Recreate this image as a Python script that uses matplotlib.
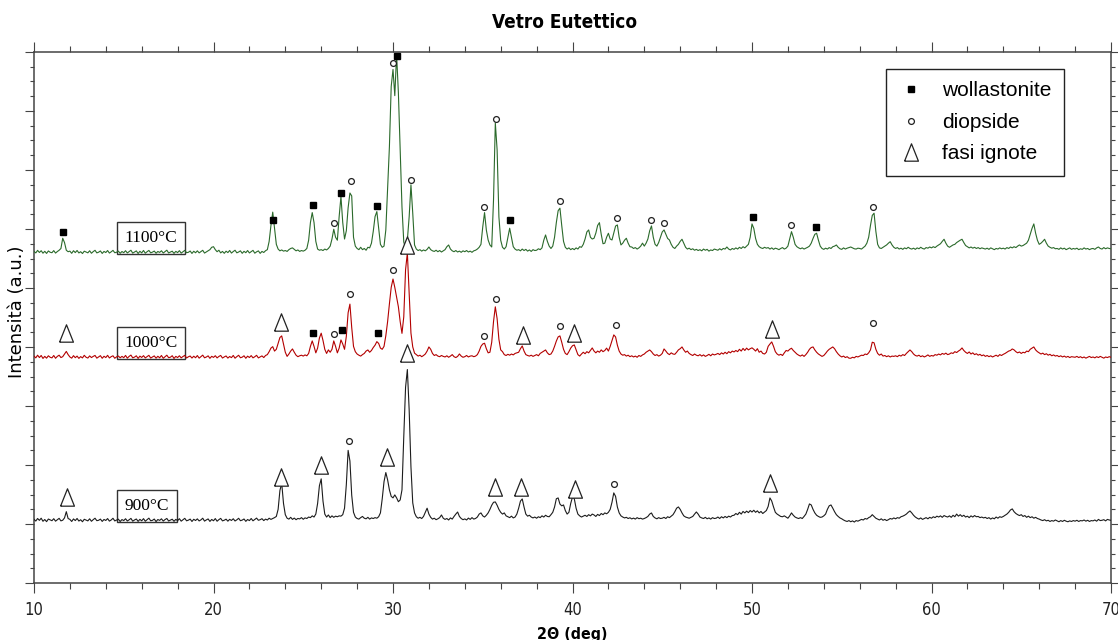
import numpy as np
import matplotlib
matplotlib.use("Agg")
import matplotlib.pyplot as plt
from matplotlib import font_manager
from matplotlib.lines import Line2D
from matplotlib.ticker import MultipleLocator

# --- Scan data (counts, 2theta from 10.0 deg in 0.1 deg steps) ---
TTH_START = 10.0
TTH_STEP = 0.1

counts_900 = [
    212, 182, 225, 194, 230, 178, 208, 172, 216, 202,
    188, 222, 180, 205, 228, 185, 196, 235, 341, 225,
    210, 175, 218, 190, 226, 182, 204, 170, 212, 198,
    185, 220, 178, 206, 230, 188, 195, 215, 176, 209,
    192, 224, 181, 200, 229, 184, 198, 214, 174, 207,
    190, 221, 183, 203, 227, 180, 200, 217, 177, 211,
    186, 223, 179, 204, 231, 187, 194, 216, 173, 208,
    193, 220, 182, 207, 226, 183, 199, 213, 178, 210,
    189, 222, 180, 205, 228, 186, 197, 215, 175, 212,
    191, 219, 184, 202, 230, 181, 201, 218, 176, 209,
    187, 224, 179, 206, 227, 185, 196, 214, 180, 211,
    192, 221, 183, 203, 229, 188, 198, 217, 177, 208,
    190, 225, 186, 210, 232, 195, 205, 222, 190, 215,
    200, 230, 210, 225, 240, 260, 380, 700, 824, 480,
    290, 230, 215, 245, 210, 232, 205, 226, 218, 240,
    212, 236, 225, 250, 240, 270, 250, 300, 480, 780,
    897, 520, 300, 250, 285, 240, 270, 245, 265, 255,
    270, 265, 290, 400, 800, 1380, 1200, 620, 330, 250,
    225, 215, 240, 260, 230, 220, 245, 215, 235, 225,
    240, 230, 255, 320, 560, 850, 1004, 880, 710, 600,
    575, 625, 575, 510, 540, 710, 1610, 2450, 2750, 2070,
    1100, 490, 320, 255, 230, 245, 225, 260, 330, 400,
    300, 245, 215, 230, 205, 220, 240, 285, 230, 210,
    225, 200, 235, 215, 260, 300, 335, 260, 225, 205,
    218, 200, 232, 210, 240, 215, 226, 250, 300, 320,
    270, 250, 280, 320, 380, 450, 500, 506, 450, 380,
    330, 300, 320, 270, 255, 240, 265, 235, 250, 300,
    400, 520, 557, 420, 300, 265, 280, 250, 235, 250,
    230, 255, 240, 270, 250, 280, 260, 255, 290, 330,
    420, 560, 574, 470, 440, 455, 360, 300, 330, 480,
    591, 560, 400, 300, 270, 250, 265, 280, 260, 290,
    270, 300, 285, 260, 295, 275, 310, 290, 320, 305,
    330, 380, 500, 659, 600, 420, 320, 270, 250, 235,
    245, 225, 238, 218, 232, 215, 240, 222, 230, 215,
    225, 240, 260, 300, 319, 260, 235, 220, 240, 225,
    230, 245, 225, 255, 240, 265, 290, 340, 400, 421,
    380, 320, 270, 250, 240, 230, 245, 260, 300, 336,
    300, 250, 235, 225, 245, 220, 235, 215, 240, 225,
    230, 250, 225, 255, 235, 260, 240, 265, 250, 275,
    280, 310, 290, 330, 300, 345, 320, 350, 325, 360,
    335, 365, 330, 355, 320, 345, 310, 335, 360, 430,
    574, 520, 420, 330, 300, 280, 260, 255, 270, 250,
    230, 270, 320, 280, 250, 235, 225, 240, 225, 260,
    300, 380, 472, 455, 380, 320, 280, 260, 245, 250,
    270, 300, 380, 440, 455, 400, 340, 290, 260, 235,
    220, 200, 185, 175, 190, 170, 185, 165, 190, 180,
    195, 210, 200, 225, 215, 240, 255, 290, 260, 230,
    215, 200, 220, 195, 210, 190, 205, 225, 215, 235,
    220, 240, 230, 255, 265, 280, 300, 330, 353, 320,
    280, 250, 230, 215, 235, 210, 225, 240, 220, 245,
    230, 255, 240, 265, 250, 270, 245, 275, 260, 250,
    270, 245, 280, 255, 300, 265, 290, 260, 280, 250,
    265, 240, 270, 250, 275, 255, 260, 240, 250, 235,
    245, 225, 240, 215, 235, 220, 250, 230, 255, 245,
    260, 280, 300, 330, 370, 388, 340, 310, 290, 275,
    290, 260, 275, 245, 265, 240, 255, 230, 245, 225,
    215, 200, 190, 205, 185, 195, 175, 190, 180, 200,
    185, 170, 190, 175, 195, 180, 170, 185, 175, 190,
    180, 195, 175, 190, 185, 200, 180, 195, 175, 190,
    185, 200, 180, 210, 190, 195, 205, 185, 210, 200,
    195,
]

counts_1000 = [
    215, 185, 230, 190, 225, 175, 210, 180, 220, 195,
    185, 225, 178, 210, 230, 190, 205, 250, 294, 240,
    200, 180, 222, 188, 215, 176, 206, 184, 228, 195,
    182, 218, 190, 210, 226, 180, 200, 222, 178, 212,
    190, 228, 183, 205, 220, 178, 202, 216, 186, 210,
    188, 226, 180, 210, 232, 185, 198, 220, 176, 214,
    192, 222, 184, 206, 228, 182, 200, 218, 180, 212,
    186, 225, 178, 204, 230, 188, 196, 221, 175, 210,
    190, 220, 185, 208, 227, 183, 203, 216, 182, 213,
    187, 224, 180, 205, 231, 186, 199, 219, 177, 211,
    193, 221, 184, 209, 226, 182, 201, 217, 181, 208,
    189, 226, 179, 206, 229, 187, 197, 220, 178, 214,
    191, 223, 185, 204, 228, 184, 200, 218, 190, 225,
    240, 290, 350, 375, 300, 330, 430, 530, 557, 420,
    280, 210, 250, 300, 336, 280, 230, 205, 220, 230,
    215, 235, 220, 260, 380, 472, 380, 270, 350, 520,
    603, 480, 330, 260, 320, 280, 330, 472, 380, 270,
    350, 489, 420, 330, 550, 950, 1096, 700, 380, 290,
    250, 230, 215, 240, 260, 300, 319, 280, 310, 360,
    400, 460, 430, 350, 330, 380, 560, 800, 1100, 1380,
    1521, 1380, 1220, 1050, 800, 600, 880, 1680, 1963, 1280,
    605, 370, 265, 240, 215, 230, 205, 225, 250, 300,
    370, 330, 260, 225, 240, 215, 205, 225, 210, 200,
    220, 195, 215, 240, 205, 190, 210, 251, 215, 195,
    205, 225, 200, 215, 220, 205, 215, 240, 300, 380,
    420, 433, 340, 270, 280, 450, 800, 1050, 850, 500,
    320, 290, 240, 225, 245, 230, 250, 235, 260, 270,
    280, 340, 387, 300, 240, 225, 215, 230, 210, 225,
    240, 220, 260, 280, 300, 319, 270, 240, 250, 300,
    380, 470, 540, 557, 450, 330, 260, 240, 290, 350,
    390, 404, 320, 240, 215, 250, 280, 255, 290, 270,
    310, 353, 300, 270, 300, 280, 320, 290, 310, 350,
    300, 380, 480, 574, 540, 400, 300, 250, 230, 240,
    215, 230, 205, 220, 200, 215, 195, 225, 210, 235,
    250, 280, 300, 319, 290, 250, 225, 240, 215, 230,
    260, 336, 300, 260, 240, 270, 250, 245, 280, 320,
    340, 370, 320, 280, 300, 260, 240, 225, 250, 230,
    220, 240, 215, 235, 210, 225, 245, 220, 250, 235,
    245, 260, 240, 270, 250, 280, 255, 290, 270, 300,
    285, 310, 290, 330, 300, 345, 310, 350, 320, 340,
    355, 330, 300, 340, 280, 300, 260, 250, 280, 380,
    420, 455, 380, 290, 250, 230, 245, 225, 270, 310,
    300, 330, 348, 310, 280, 250, 230, 215, 235, 210,
    240, 280, 330, 360, 370, 320, 280, 250, 230, 210,
    225, 260, 300, 330, 350, 370, 340, 290, 250, 220,
    200, 215, 190, 205, 180, 178, 195, 185, 210, 200,
    215, 230, 225, 250, 240, 270, 320, 450, 440, 330,
    260, 230, 250, 215, 225, 205, 220, 200, 215, 210,
    220, 205, 230, 215, 240, 225, 260, 290, 319, 290,
    250, 225, 215, 230, 205, 220, 200, 215, 235, 210,
    225, 215, 240, 230, 250, 235, 260, 245, 265, 240,
    250, 270, 260, 290, 275, 300, 320, 353, 310, 280,
    260, 285, 250, 270, 240, 255, 230, 245, 220, 235,
    210, 225, 205, 220, 200, 215, 230, 210, 240, 225,
    245, 260, 280, 300, 310, 336, 320, 290, 270, 285,
    260, 280, 270, 300, 290, 330, 350, 370, 320, 290,
    270, 250, 265, 240, 255, 230, 245, 220, 235, 215,
    225, 205, 220, 200, 215, 195, 210, 190, 205, 200,
    195, 210, 190, 205, 185, 200, 180, 195, 210, 190,
    200, 185, 205, 190, 210, 195, 180, 200, 190, 205,
    195,
]

counts_1100 = [
    210, 185, 228, 192, 222, 180, 212, 176, 218, 196,
    188, 224, 182, 208, 230, 260, 433, 360, 230, 205,
    215, 178, 222, 190, 226, 184, 205, 174, 214, 199,
    186, 221, 179, 207, 229, 185, 197, 218, 176, 210,
    191, 225, 182, 203, 228, 187, 196, 215, 178, 208,
    189, 222, 184, 206, 230, 181, 200, 219, 175, 212,
    185, 226, 180, 205, 227, 186, 198, 216, 179, 209,
    193, 221, 183, 208, 231, 184, 199, 214, 177, 211,
    190, 223, 181, 204, 228, 188, 195, 217, 176, 213,
    187, 220, 185, 207, 229, 182, 201, 218, 240, 280,
    290, 240, 205, 230, 185, 210, 178, 214, 190, 226,
    182, 208, 230, 186, 200, 220, 178, 212, 188, 225,
    184, 206, 228, 180, 203, 219, 177, 210, 192, 222,
    240, 380, 650, 876, 600, 330, 250, 220, 235, 215,
    225, 210, 240, 260, 270, 245, 220, 235, 210, 225,
    215, 230, 260, 400, 700, 868, 700, 380, 250, 230,
    240, 225, 250, 235, 260, 300, 420, 586, 450, 400,
    800, 1140, 700, 420, 560, 950, 1200, 1150, 450, 300,
    260, 240, 280, 240, 260, 230, 280, 270, 350, 550,
    800, 885, 600, 330, 280, 300, 574, 1300, 1985, 3005,
    3294, 2850, 3550, 2898, 1934, 965, 370, 263, 404, 795,
    1339, 858, 319, 250, 225, 240, 215, 235, 220, 245,
    285, 240, 220, 210, 230, 205, 225, 200, 220, 240,
    290, 319, 250, 220, 205, 225, 200, 215, 195, 220,
    205, 225, 200, 215, 195, 220, 230, 250, 280, 330,
    625, 868, 574, 404, 319, 285, 1084, 2388, 1934, 795,
    400, 280, 250, 290, 450, 603, 450, 290, 250, 230,
    240, 220, 250, 225, 245, 215, 235, 210, 240, 225,
    230, 255, 240, 270, 400, 489, 380, 300, 260, 300,
    450, 700, 900, 943, 650, 380, 280, 250, 270, 240,
    260, 240, 270, 250, 290, 280, 330, 420, 540, 574,
    450, 420, 433, 520, 650, 698, 500, 340, 350, 450,
    518, 420, 404, 520, 640, 659, 450, 320, 350, 400,
    433, 350, 290, 285, 260, 275, 250, 270, 300, 350,
    300, 350, 420, 560, 642, 450, 330, 300, 360, 450,
    540, 574, 500, 430, 404, 330, 280, 260, 300, 330,
    380, 416, 350, 280, 250, 265, 240, 255, 230, 245,
    225, 240, 220, 250, 230, 245, 215, 235, 225, 250,
    240, 230, 255, 235, 260, 250, 285, 250, 235, 260,
    245, 270, 250, 280, 260, 290, 270, 300, 330, 450,
    676, 600, 430, 330, 290, 270, 260, 280, 265, 275,
    250, 270, 245, 265, 255, 240, 260, 275, 250, 265,
    300, 420, 545, 450, 330, 290, 270, 255, 270, 250,
    265, 280, 300, 350, 430, 500, 518, 400, 300, 260,
    245, 265, 250, 275, 260, 290, 300, 319, 280, 255,
    245, 270, 250, 265, 275, 285, 270, 255, 250, 265,
    260, 250, 275, 300, 350, 450, 650, 820, 858, 550,
    330, 270, 260, 280, 300, 320, 350, 375, 320, 280,
    260, 275, 250, 265, 245, 270, 255, 280, 260, 250,
    265, 245, 270, 255, 280, 260, 250, 275, 265, 285,
    270, 290, 275, 300, 320, 340, 380, 416, 350, 300,
    280, 300, 320, 330, 360, 380, 400, 416, 360, 310,
    290, 270, 285, 265, 280, 260, 275, 255, 270, 260,
    250, 265, 245, 270, 255, 240, 260, 250, 270, 255,
    265, 250, 275, 260, 285, 270, 290, 275, 300, 320,
    300, 310, 330, 350, 400, 500, 600, 676, 520, 400,
    330, 350, 380, 416, 350, 300, 280, 265, 275, 255,
    260, 245, 270, 250, 265, 240, 255, 270, 245, 260,
    250, 265, 240, 255, 245, 270, 250, 260, 240, 255,
    260, 245, 270, 285, 260, 250, 275, 255, 270, 260,
    255,
]

# Phase markers: (2theta, marker height in counts of that scan)
wollastonite_1100 = [(11.63, 545), (23.33, 744), (25.53, 999), (27.10, 1208),
                     (29.09, 982), (30.24, 3520), (36.52, 744), (50.04, 790),
                     (53.57, 630)]
diopside_1100 = [(26.73, 688), (27.66, 1412), (29.98, 3396), (31.00, 1424),
                 (35.07, 970), (35.74, 2456), (39.30, 1067), (42.46, 773),
                 (44.40, 744), (45.10, 688), (52.20, 659), (56.76, 970)]

unknown_1000 = [(11.80, 603), (23.76, 800), (30.80, 2104), (37.22, 574),
                (40.10, 603), (51.10, 676)]
wollastonite_1000 = [(25.53, 603), (27.14, 659), (29.15, 603)]
diopside_1000 = [(26.73, 586), (27.60, 1266), (30.02, 1667), (35.07, 557),
                 (35.74, 1181), (39.30, 727), (42.40, 744), (56.76, 773)]

unknown_900 = [(11.82, 596), (23.76, 936), (25.97, 1135), (29.65, 1276),
               (30.76, 3022), (35.70, 756), (37.12, 756), (40.12, 727),
               (51.00, 824)]
diopside_900 = [(27.55, 1543), (42.33, 807)]

sample_names = ["900°C", "1000°C", "1100°C"]
legend_labels = ["wollastonite", "diopside", "fasi ignote"]

# --- Styling ---
# prefer a condensed sans for title and axis numbers when one is installed
condensed = {"family": "Liberation Sans"}
narrow_scale = 0.86
for f in font_manager.fontManager.ttflist:
    if f.name == "Liberation Sans Narrow":
        condensed = {"family": "Liberation Sans Narrow"}
        narrow_scale = 1.0
        break
    if f.name == "DejaVu Sans" and f.stretch == "condensed":
        condensed = {"family": "DejaVu Sans", "stretch": "condensed"}
        narrow_scale = 0.85

offsets = [868, 3631, 5410]          # vertical stacking of the scans
line_colors = ["#1c1c1c", "#b30000", "#2b6a2b"]
label_x = [16.30, 16.52, 16.52]       # sample tag positions (2theta)
LABEL_LIFT = 240                      # tag centre above the scan baseline

tri_verts = [(-0.8, -1.0), (0.8, -1.0), (0.0, 1.0), (-0.8, -1.0)]

fig = plt.figure(figsize=(11.18, 6.4), dpi=100)
ax = fig.add_axes([34 / 1118, 57 / 640, 1077 / 1118, 531 / 640])

scans = [counts_900, counts_1000, counts_1100]
for counts, off, col, name, lx in zip(scans, offsets, line_colors, sample_names, label_x):
    y = np.asarray(counts, dtype=float)
    tth = TTH_START + TTH_STEP * np.arange(len(y))
    ax.plot(tth, y + off, color=col, lw=0.8, zorder=3)
    ax.text(lx, off + 200 + LABEL_LIFT, name, ha="center", va="center",
            family="Liberation Serif", fontsize=12.5, zorder=2,
            bbox=dict(boxstyle="square,pad=0.45", fc="white", ec="#333333", lw=1.0))


def draw_markers(points, off, kind):
    xs = [p[0] for p in points]
    ys = [p[1] + off for p in points]
    if kind == "w":
        ax.plot(xs, ys, ls="none", marker="s", ms=5, mfc="black", mec="black",
                clip_on=False, zorder=5)
    elif kind == "d":
        ax.plot(xs, ys, ls="none", marker="o", ms=4.2, mfc="white", mec="#222222",
                mew=0.9, clip_on=False, zorder=5)
    else:
        ax.plot(xs, ys, ls="none", marker=tri_verts, ms=12.5, mfc="white",
                mec="#222222", mew=0.9, clip_on=False, zorder=5)


draw_markers(wollastonite_1100, offsets[2], "w")
draw_markers(diopside_1100, offsets[2], "d")
draw_markers(unknown_1000, offsets[1], "t")
draw_markers(wollastonite_1000, offsets[1], "w")
draw_markers(diopside_1000, offsets[1], "d")
draw_markers(unknown_900, offsets[0], "t")
draw_markers(diopside_900, offsets[0], "d")

# --- Axes ---
ax.set_xlim(10, 70)
ax.set_ylim(0, 9000)
ax.xaxis.set_major_locator(MultipleLocator(10))
ax.xaxis.set_minor_locator(MultipleLocator(2))
ax.yaxis.set_major_locator(MultipleLocator(1000))
ax.yaxis.set_minor_locator(MultipleLocator(250))
ax.tick_params(axis="x", which="both", direction="out", top=True, bottom=True,
               labeltop=False, color="#444444", width=0.8)
ax.tick_params(axis="x", which="major", length=7.2, pad=5.5, labelsize=12.5)
ax.tick_params(axis="x", which="minor", length=4.3)
ax.tick_params(axis="y", which="both", direction="out", left=True, right=True,
               labelleft=False, labelright=False, color="#444444", width=0.8)
ax.tick_params(axis="y", which="major", length=6.5)
ax.tick_params(axis="y", which="minor", length=3.2)
for lbl in ax.get_xticklabels():
    lbl.set_fontfamily(condensed["family"])
    if "stretch" in condensed:
        lbl.set_fontstretch(condensed["stretch"])
    lbl.set_fontsize(14 * narrow_scale)
    lbl.set_color("#222222")
for sp in ax.spines.values():
    sp.set_color("#444444")
    sp.set_linewidth(1.1)

# --- Legend ---
handles = [
    Line2D([], [], ls="none", marker="s", ms=5, mfc="black", mec="black"),
    Line2D([], [], ls="none", marker="o", ms=4.2, mfc="white", mec="#222222", mew=0.9),
    Line2D([], [], ls="none", marker=tri_verts, ms=12.5, mfc="white", mec="#222222", mew=0.9),
]
leg = ax.legend(handles, legend_labels, loc="upper right",
                bbox_to_anchor=(0.9564, 0.968), borderaxespad=0,
                prop={"family": "Liberation Sans", "size": 15},
                handlelength=1.2, handletextpad=0.9, borderpad=0.6,
                labelspacing=0.6, fancybox=False, framealpha=1)
leg.get_frame().set_edgecolor("#222222")
leg.get_frame().set_linewidth(1.0)

# --- Titles ---
fig.text(565 / 1118, 1 - 22 / 640, "Vetro Eutettico", ha="center", va="center",
         fontweight="bold", fontsize=16 * narrow_scale, **condensed)
fig.text(572 / 1118, 1 - 634 / 640, "2Θ (deg)", ha="center", va="center",
         fontweight="bold", fontsize=13.5 * narrow_scale, **condensed)
fig.text(17 / 1118, 1 - 312 / 640, "Intensità (a.u.)", ha="center", va="center",
         rotation=90, family="DejaVu Sans", fontsize=13)

fig.savefig("out.png", dpi=100)
